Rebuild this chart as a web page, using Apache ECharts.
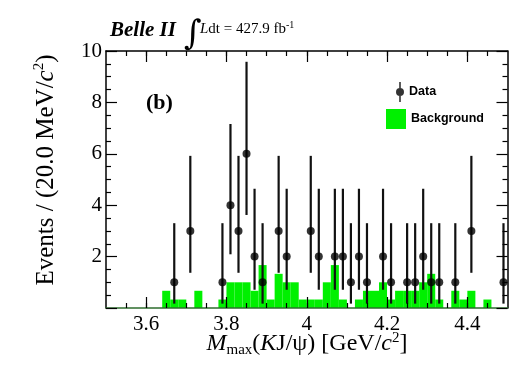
<!DOCTYPE html>
<html>
<head>
<meta charset="utf-8">
<script src="https://cdn.jsdelivr.net/npm/echarts@6/dist/echarts.min.js"></script>
<style>
html,body{margin:0;padding:0;background:#fff;}
#chart{width:512px;height:365px;}
</style>
</head>
<body>
<div id="chart"></div>
<script>
// ---- data ----
const binMin = 3.5;
const binWidth = 0.02;
// background histogram, 50 bins of 20 MeV from 3.50 to 4.50 GeV
const bgValues = [
  0, 0, 0, 0, 0, 0, 0, 0.67, 0.33, 0.33,
  0, 0.67, 0, 0, 0.33, 1.0, 1.0, 1.0, 0.67, 1.67,
  0.33, 1.33, 1.0, 1.0, 0.33, 0.33, 0.33, 1.0, 1.67, 0.33,
  0, 0.33, 0.67, 0.67, 1.0, 0.33, 0.67, 0.67, 0.67, 1.0,
  1.33, 0.33, 0, 0.67, 0.33, 0.67, 0, 0.33, 0, 0
];
// data points (bin centres) and counts
const dataX = [3.67, 3.71, 3.79, 3.81, 3.83, 3.85, 3.87, 3.89, 3.93, 3.95,
               4.01, 4.03, 4.07, 4.09, 4.11, 4.13, 4.15, 4.19, 4.21, 4.25,
               4.27, 4.29, 4.31, 4.33, 4.37, 4.41, 4.49];
const dataY = [1, 3, 1, 4, 3, 6, 2, 1, 3, 2,
               3, 2, 2, 2, 1, 2, 1, 2, 1, 1,
               1, 2, 1, 1, 1, 3, 1];
// asymmetric error bar ends (lower, upper)
const errLo = [0.17, 1.37, 0.17, 2.09, 1.37, 3.62, 0.71, 0.17, 1.37, 0.71,
               1.37, 0.71, 0.71, 0.71, 0.17, 0.71, 0.17, 0.71, 0.17, 0.17,
               0.17, 0.71, 0.17, 0.17, 0.17, 1.37, 0.17];
const errHi = [3.30, 5.92, 3.30, 7.16, 5.92, 9.58, 4.64, 3.30, 5.92, 4.64,
               5.92, 4.64, 4.64, 4.64, 3.30, 4.64, 3.30, 4.64, 3.30, 3.30,
               3.30, 4.64, 3.30, 3.30, 3.30, 5.92, 3.30];
// tick labels
const xMajorTicks = [3.6, 3.8, 4.0, 4.2, 4.4];
const xMinorTicks = [3.55, 3.6, 3.65, 3.7, 3.75, 3.8, 3.85, 3.9, 3.95, 4.0,
                     4.05, 4.1, 4.15, 4.2, 4.25, 4.3, 4.35, 4.4, 4.45];
const yTickLabels = ['2', '4', '6', '8', '10'];

// ---- chart ----
const binCenters = bgValues.map((_, i) => +(binMin + binWidth * (i + 0.5)).toFixed(3));
const bgData = binCenters.map((c, i) => [c, bgValues[i]]);
const ptData = dataX.map((x, i) => [x, dataY[i]]);
const errData = dataX.map((x, i) => [x, errLo[i], errHi[i]]);

const SERIF = '"Liberation Serif", "Times New Roman", serif';
const SANS = '"Liberation Sans", Arial, sans-serif';
const GREEN = '#00f000';

function xAxisDef(pos, major, showLabel, lineColor) {
  return {
    type: 'value', min: 3.5, max: 4.5, position: pos, z: 5,
    axisLine: {show: major, onZero: false, lineStyle: {color: lineColor, width: 1.5}},
    axisTick: {show: true, inside: true, length: major ? 11 : 5,
               customValues: major ? xMajorTicks : xMinorTicks,
               lineStyle: {color: '#000', width: 1.2}},
    axisLabel: showLabel ? {show: true, customValues: xMajorTicks, margin: 6,
               fontFamily: SERIF, fontSize: 21, color: '#000',
               formatter: v => String(+(+v).toFixed(2))} : {show: false},
    splitLine: {show: false}
  };
}
function yAxisDef(pos, showLabel) {
  return {
    type: 'value', min: 0, max: 10, interval: 2, position: pos, z: 5,
    axisLine: {show: true, onZero: false, lineStyle: {color: '#000', width: 1.5}},
    axisTick: {show: true, inside: true, length: 11, lineStyle: {color: '#000', width: 1.2}},
    minorTick: {show: true, splitNumber: 4, length: 5, lineStyle: {color: '#000', width: 1.2}},
    axisLabel: showLabel ? {show: true, margin: 4, fontFamily: SERIF, fontSize: 21, color: '#000',
               formatter: v => (v === 0 ? '' : yTickLabels[v / 2 - 1])} : {show: false},
    splitLine: {show: false}
  };
}

const dataIcon = 'path://M3.2,0 h1.6 v20 h-1.6 Z M0,10 a4,4 0 1,1 8,0 a4,4 0 1,1 -8,0 Z';

const chart = echarts.init(document.getElementById('chart'), null, {renderer: 'canvas'});
chart.setOption({
  animation: false,
  backgroundColor: '#fff',
  grid: {left: 106, right: 4.5, top: 51, bottom: 57, containLabel: false},
  xAxis: [
    xAxisDef('bottom', true, true, '#2e6e2e'),
    xAxisDef('bottom', false, false, '#000'),
    xAxisDef('top', true, false, '#000'),
    xAxisDef('top', false, false, '#000')
  ],
  yAxis: [
    yAxisDef('left', true),
    yAxisDef('right', false)
  ],
  legend: [
    {data: [{name: 'Data', icon: dataIcon}], left: 391, top: 77, itemWidth: 8, itemHeight: 20,
     selectedMode: false, textStyle: {fontFamily: SANS, fontWeight: 'bold', fontSize: 12.5, color: '#000'}},
    {data: [{name: 'Background', icon: 'rect'}], left: 381, top: 104, itemWidth: 20, itemHeight: 20,
     selectedMode: false, textStyle: {fontFamily: SANS, fontWeight: 'bold', fontSize: 12.5, color: '#000'}}
  ],
  series: [
    {
      name: 'Background', type: 'custom', xAxisIndex: 0, yAxisIndex: 0, z: 2,
      itemStyle: {color: GREEN},
      encode: {x: 0, y: 1},
      data: bgData,
      renderItem: function (params, api) {
        const c = api.value(0), v = api.value(1);
        if (!v) return null;
        const a = api.coord([c - binWidth / 2, v]);
        const b = api.coord([c + binWidth / 2, 0]);
        return {type: 'rect', shape: {x: a[0], y: a[1], width: b[0] - a[0], height: b[1] - a[1]},
                style: {fill: GREEN}};
      }
    },
    {
      name: 'DataErr', type: 'custom', xAxisIndex: 0, yAxisIndex: 0, z: 3,
      encode: {x: 0, y: [1, 2]},
      data: errData,
      renderItem: function (params, api) {
        const x = api.value(0);
        const p1 = api.coord([x, api.value(1)]);
        const p2 = api.coord([x, api.value(2)]);
        return {type: 'line', shape: {x1: p1[0], y1: p1[1], x2: p2[0], y2: p2[1]},
                style: {stroke: '#111', lineWidth: 2.2}};
      }
    },
    {
      name: 'Data', type: 'scatter', xAxisIndex: 0, yAxisIndex: 0, z: 4,
      symbol: 'circle', symbolSize: 8,
      itemStyle: {color: '#000'},
      data: ptData
    }
  ],
  graphic: [
    {type: 'text', x: 110, y: 31, style: {text: 'Belle II', font: 'italic bold 21px ' + SERIF,
      fill: '#000', align: 'left', verticalAlign: 'middle'}},
    {type: 'text', x: 184, y: 35, style: {text: '\u222B', font: '34px "DejaVu Serif", serif',
      fill: '#000', align: 'left', verticalAlign: 'middle'}},
    {type: 'text', x: 200, y: 29, style: {text: '{i|L}{r|dt = 427.9 fb}{sup|-1}',
      fill: '#000', align: 'left', verticalAlign: 'middle',
      rich: {r: {fontFamily: SERIF, fontSize: 15, lineHeight: 18},
             i: {fontStyle: 'italic', fontFamily: SERIF, fontSize: 15, lineHeight: 18},
             sup: {fontFamily: SERIF, fontSize: 10, verticalAlign: 'top', lineHeight: 8}}}},
    {type: 'text', x: 146, y: 103, style: {text: '(b)', font: 'bold 22px ' + SERIF,
      fill: '#000', align: 'left', verticalAlign: 'middle'}},
    {type: 'text', x: 46, y: 170, rotation: Math.PI / 2,
      style: {text: '{r|Events / (20.0 MeV/}{i|c}{sup|2}{r|)}', fill: '#000',
        align: 'center', verticalAlign: 'middle',
        rich: {r: {fontFamily: SERIF, fontSize: 25, lineHeight: 28},
               i: {fontStyle: 'italic', fontFamily: SERIF, fontSize: 25, lineHeight: 28},
               sup: {fontFamily: SERIF, fontSize: 15, verticalAlign: 'top', lineHeight: 12}}}},
    {type: 'text', x: 307, y: 344,
      style: {text: '{i|M}{sub|max}{r|(}{i|K}{r|J/\u03C8) [GeV/}{i|c}{sup|2}{r|]}', fill: '#000',
        align: 'center', verticalAlign: 'middle',
        rich: {r: {fontFamily: SERIF, fontSize: 24, lineHeight: 27},
               i: {fontStyle: 'italic', fontFamily: SERIF, fontSize: 24, lineHeight: 27},
               sub: {fontFamily: SERIF, fontSize: 15, verticalAlign: 'bottom', lineHeight: 10},
               sup: {fontFamily: SERIF, fontSize: 15, verticalAlign: 'top', lineHeight: 10}}}}
  ]
});
</script>
</body>
</html>
